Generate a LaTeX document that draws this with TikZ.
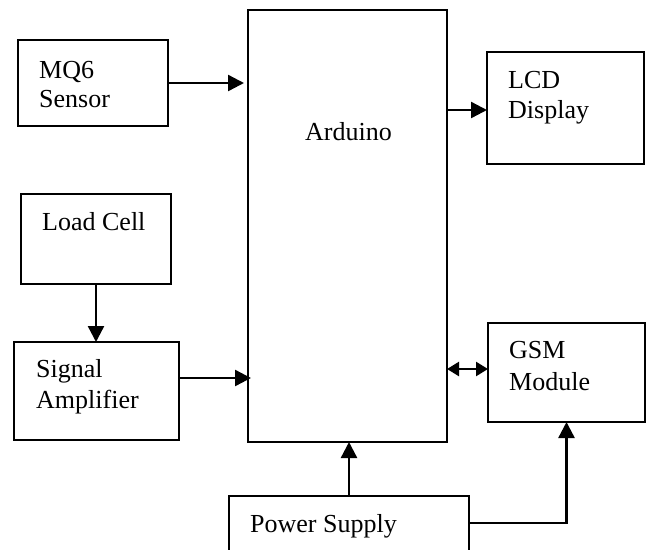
\documentclass[tikz,border=0pt]{standalone}
\usepackage{fontspec}
\setmainfont{Liberation Serif}
\usetikzlibrary{arrows.meta}
\begin{document}
\begin{tikzpicture}[x=1pt,y=-1pt,
  box/.style={draw,line width=2.4pt,inner sep=0pt,outer sep=0pt,anchor=north west},
  lbl/.style={anchor=base west,inner sep=0pt,font=\fontsize{26}{30}\selectfont},
  arr/.style={line width=2.4pt,-{Triangle[length=16pt,width=16pt]}},
  darr/.style={line width=2.4pt,{Triangle[length=12pt,width=14pt]}-{Triangle[length=12pt,width=14pt]}}]
\useasboundingbox (0,0) rectangle (647,549);
\begin{scope}
\clip (0,0) rectangle (647,549);
\node[box,minimum width=150pt,minimum height=86pt] (mq6) at (18,40) {};
\node[box,minimum width=199pt,minimum height=432pt] (ard) at (248,10) {};
\node[box,minimum width=157pt,minimum height=112pt] (lcd) at (487,52) {};
\node[box,minimum width=150pt,minimum height=90pt] (load) at (21,194) {};
\node[box,minimum width=165pt,minimum height=98pt] (sig) at (14,342) {};
\node[box,minimum width=157pt,minimum height=99pt] (gsm) at (488,323) {};
\node[box,minimum width=240pt,minimum height=70pt] (pow) at (229,496) {};

\node[lbl] (t1) at (39,78) {MQ6};
\node[lbl] (t2) at (39,107) {Sensor};
\node[lbl] (t3) at (305,140) {Arduino};
\node[lbl] (t4) at (508,88) {LCD};
\node[lbl] (t5) at (508,118) {Display};
\node[lbl] (t6) at (42,230) {Load Cell};
\node[lbl] (t7) at (36,377) {Signal};
\node[lbl] (t8) at (36,408) {Amplifier};
\node[lbl] (t9) at (509,358) {GSM};
\node[lbl] (t10) at (509,390) {Module};
\node[lbl] (t11) at (250,532) {Power Supply};

\draw[arr,shorten >=4pt] (mq6.east |- 0,83) -- (ard.west |- 0,83);
\draw[arr] (ard.east |- 0,110) -- (lcd.west |- 0,110);
\draw[arr] (load.south) -- (load.south |- sig.north);
\draw[arr,shorten >=-3pt] (sig.east |- 0,378) -- (ard.west |- 0,378);
\draw[darr] (ard.east |- 0,369) -- (gsm.west |- 0,369);
\draw[arr] (pow.north) -- (pow.north |- ard.south);
\draw[arr] (pow.east |- 0,523) -| (gsm.south);
\end{scope}
\end{tikzpicture}
\end{document}
